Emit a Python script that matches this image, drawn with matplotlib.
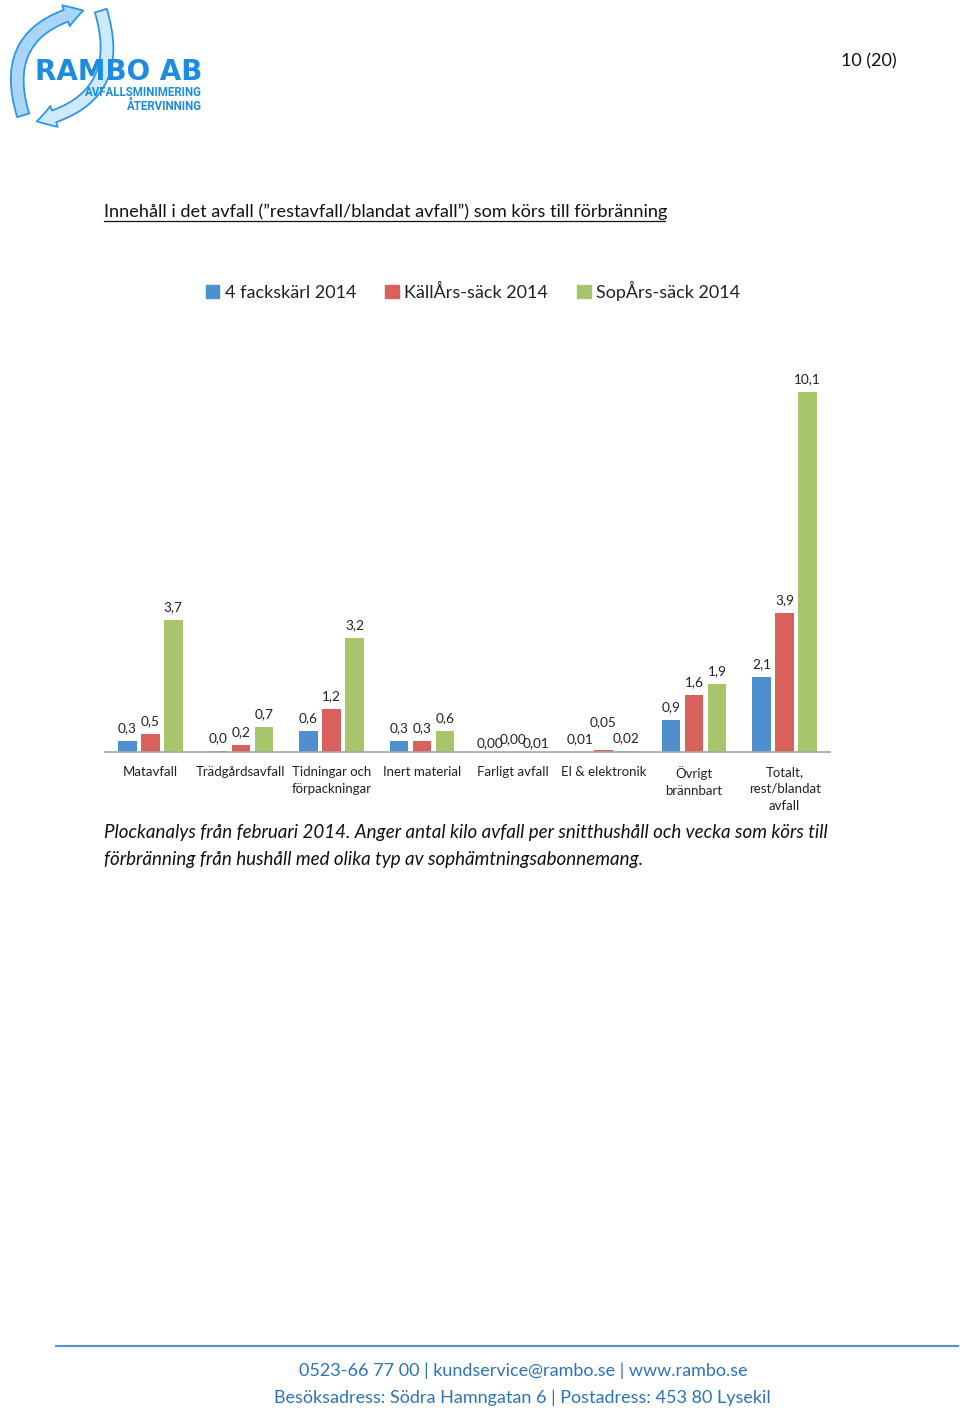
#Plockanalys februari 2014 - kilo avfall per snitthushall och vecka
import matplotlib as mpl
mpl.use('Agg')
import matplotlib.pyplot as plt
from matplotlib.lines import Line2D
from matplotlib.patches import FancyArrowPatch, Patch
import numpy as np

plt.rcParams['font.family'] = ['Lato', 'DejaVu Sans']

categories = ["Matavfall", "Trädgårdsavfall", "Tidningar och\nförpackningar",
              "Inert material", "Farligt avfall", "El & elektronik",
              "Övrigt\nbrännbart", "Totalt,\nrest/blandat\navfall"]
series_names = ["4 fackskärl 2014", "KällÅrs-säck 2014", "SopÅrs-säck 2014"]
fackskarl = [0.3, 0.03, 0.6, 0.3, 0.004, 0.01, 0.9, 2.1]
kallars = [0.5, 0.2, 1.2, 0.3, 0.004, 0.05, 1.6, 3.9]
sopars = [3.7, 0.7, 3.2, 0.6, 0.01, 0.02, 1.9, 10.1]
labels_fack = ["0,3", "0,0", "0,6", "0,3", "0,00", "0,01", "0,9", "2,1"]
labels_kall = ["0,5", "0,2", "1,2", "0,3", "0,00", "0,05", "1,6", "3,9"]
labels_sop = ["3,7", "0,7", "3,2", "0,6", "0,01", "0,02", "1,9", "10,1"]
# extra label lift (points) where the labels were moved apart
lift_fack = [0, 0, 0, 0, -3, 0, 0, 0]
lift_kall = [0, 0, 0, 0, 0, 11, 0, 0]
lift_sop = [0, 0, 0, 0, -3, 0, 0, 0]

colors = ['#4f8fcf', '#d8615b', '#a7c66c']

fig = plt.figure(figsize=(9.6, 14.16), dpi=100)
renderer = fig.canvas.get_renderer()


def fit_width(t, px):
    # scale font so the text spans px pixels
    w = t.get_window_extent(renderer=renderer).width
    t.set_fontsize(t.get_fontsize() * px / w)


# page header
fig.text(897/960, 1-61/1416, "10 (20)", ha='right', va='center', fontsize=13, color='#111111')

# logo
fig.add_artist(FancyArrowPatch((24/960, 1-118/1416), (86/960, 1-10/1416),
                               connectionstyle="arc3,rad=-0.55",
                               arrowstyle="simple,head_width=16,head_length=13,tail_width=9",
                               color='#a9d6f7', ec='#2f95e6', lw=1.3, transform=fig.transFigure))
fig.add_artist(FancyArrowPatch((100/960, 1-8/1416), (34/960, 1-122/1416),
                               connectionstyle="arc3,rad=-0.55",
                               arrowstyle="simple,head_width=16,head_length=13,tail_width=9",
                               color='#cfe9fc', ec='#2f95e6', lw=1.3, transform=fig.transFigure))
fig.text(119/960, 1-72/1416, "RAMBO AB", ha='center', va='center', fontsize=20,
         fontweight='heavy', color='#1c8be0', family=['DejaVu Sans'])
fig.text(202/960, 1-93/1416, "AVFALLSMINIMERING", ha='right', va='center', fontsize=8.3,
         fontweight='bold', color='#1c8be0', family=['Liberation Sans Narrow', 'Roboto', 'DejaVu Sans'])
fig.text(202/960, 1-106/1416, "ÅTERVINNING", ha='right', va='center', fontsize=8.3,
         fontweight='bold', color='#1c8be0', family=['Liberation Sans Narrow', 'Roboto', 'DejaVu Sans'])

# heading with underline
head = fig.text(104/960, 1-212/1416,
                "Innehåll i det avfall (”restavfall/blandat avfall”) som körs till förbränning",
                ha='left', va='center', fontsize=13, color='#111111')
fit_width(head, 561)
fig.add_artist(Line2D([104/960, 665/960], [1-221/1416, 1-221/1416], color='#111111', lw=0.9,
                      transform=fig.transFigure))

# chart
ax = fig.add_axes([105/960, 1-752/1416, 725/960, 392/1416])
x = np.arange(len(categories))
step = 0.254
width = 0.205
for i, (vals, labs, lift) in enumerate([(fackskarl, labels_fack, lift_fack),
                                         (kallars, labels_kall, lift_kall),
                                         (sopars, labels_sop, lift_sop)]):
    pos = x + (i - 1) * step
    ax.bar(pos, vals, width, color=colors[i])
    for p, v, lab, lf in zip(pos, vals, labs, lift):
        ax.annotate(lab, (p, v), xytext=(0, 5 + lf), textcoords='offset points',
                    ha='center', va='bottom', fontsize=9.8, color='#222222')

ax.set_xlim(-0.5, len(categories) - 0.5)
ax.set_ylim(0, 11)
ax.set_yticks([])
ax.set_xticks(x)
ax.set_xticklabels(categories, fontsize=9.5, color='#222222', linespacing=1.5)
ax.tick_params(axis='x', length=0, pad=10)
for s in ['top', 'right', 'left']:
    ax.spines[s].set_visible(False)
ax.spines['bottom'].set_color('#a6a6a6')
ax.spines['bottom'].set_linewidth(1.2)

handles = [Patch(color=c) for c in colors]
fig.legend(handles, series_names, loc='center', bbox_to_anchor=(473/960, 1-291/1416), ncol=3,
           frameon=False, fontsize=13, handlelength=0.75, handleheight=0.75,
           handletextpad=0.3, columnspacing=1.6, labelcolor='#222222')

# caption
cap1 = fig.text(104/960, 1-833/1416,
                "Plockanalys från februari 2014. Anger antal kilo avfall per snitthushåll och vecka som körs till",
                ha='left', va='center', fontsize=13, style='italic', color='#111111')
fit_width(cap1, 722)
fig.text(104/960, 1-860/1416, "förbränning från hushåll med olika typ av sophämtningsabonnemang.",
         ha='left', va='center', fontsize=cap1.get_fontsize(), style='italic', color='#111111')

# footer
fig.add_artist(Line2D([56/960, 958/960], [1-1346/1416, 1-1346/1416], color='#5b8fcc', lw=1.5,
                      transform=fig.transFigure))
fig.text(523/960, 1-1371/1416, "0523-66 77 00 | kundservice@rambo.se | www.rambo.se",
         ha='center', va='center', fontsize=13, color='#2c74b8')
fig.text(522/960, 1-1398/1416, "Besöksadress: Södra Hamngatan 6 | Postadress: 453 80 Lysekil",
         ha='center', va='center', fontsize=13, color='#2c74b8')

fig.savefig('out.png', dpi=100)
